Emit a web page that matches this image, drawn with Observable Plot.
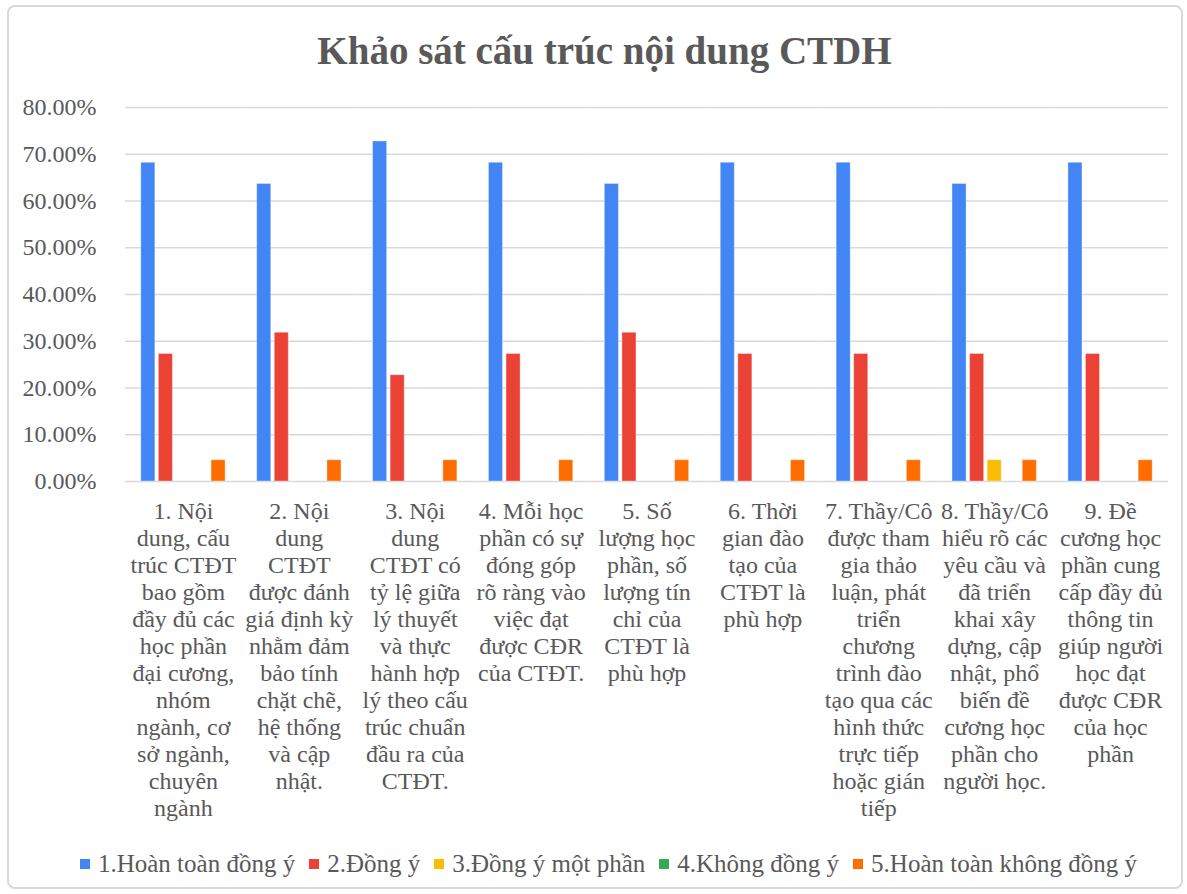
<!DOCTYPE html>
<html>
<head>
<meta charset="utf-8">
<script src="https://cdn.jsdelivr.net/npm/d3@7"></script>
<script src="https://cdn.jsdelivr.net/npm/@observablehq/plot@0.6"></script>
<style>
  html, body { margin: 0; padding: 0; background: #fff; }
  #frame { position: relative; width: 1187px; height: 894px; overflow: hidden; font-family: "Liberation Serif", "Times New Roman", serif; color: #595959; }
  #border { position: absolute; left: 7px; top: 5px; width: 1172px; height: 880px; border: 2px solid #d9d9d9; border-radius: 8px; }
  #title { position: absolute; left: 22px; top: 28px; width: 1165px; text-align: center; font-size: 39px; font-weight: bold; line-height: 46px; color: #595959; }
  #chart { position: absolute; left: 0; top: 90px; }
  #legend { position: absolute; left: 30px; width: 1157px; top: 850px; display: flex; justify-content: center; align-items: center; font-size: 25px; color: #595959; line-height: 28px; }
  .item { display: flex; align-items: center; margin: 0 7px; white-space: nowrap; }
  .sw { width: 10px; height: 10px; margin-right: 8px; }
</style>
</head>
<body>
<div id="frame">
  <div id="border"></div>
  <div id="title">Khảo sát cấu trúc nội dung CTDH</div>
  <div id="chart"></div>
  <div id="legend"></div>
</div>
<script>
// ---- Data ----
const categoryLines = [
  ["1. Nội","dung, cấu","trúc CTĐT","bao gồm","đầy đủ các","học phần","đại cương,","nhóm","ngành, cơ","sở ngành,","chuyên","ngành"],
  ["2. Nội","dung","CTĐT","được đánh","giá định kỳ","nhằm đảm","bảo tính","chặt chẽ,","hệ thống","và cập","nhật."],
  ["3. Nội","dung","CTĐT có","tỷ lệ giữa","lý thuyết","và thực","hành hợp","lý theo cấu","trúc chuẩn","đầu ra của","CTĐT."],
  ["4. Mỗi học","phần có sự","đóng góp","rõ ràng vào","việc đạt","được CĐR","của CTĐT."],
  ["5. Số","lượng học","phần, số","lượng tín","chỉ của","CTĐT là","phù hợp"],
  ["6. Thời","gian đào","tạo của","CTĐT là","phù hợp"],
  ["7. Thầy/Cô","được tham","gia thảo","luận, phát","triển","chương","trình đào","tạo qua các","hình thức","trực tiếp","hoặc gián","tiếp"],
  ["8. Thầy/Cô","hiểu rõ các","yêu cầu và","đã triển","khai xây","dựng, cập","nhật, phổ","biến đề","cương học","phần cho","người học."],
  ["9. Đề","cương học","phần cung","cấp đầy đủ","thông tin","giúp người","học đạt","được CĐR","của học","phần"]
];
const categories = categoryLines.map(l => l.join("\n"));

const seriesNames = ["1.Hoàn toàn đồng ý", "2.Đồng ý", "3.Đồng ý một phần", "4.Không đồng ý", "5.Hoàn toàn không đồng ý"];
const seriesColors = ["#4285F4", "#EA4335", "#FBBC04", "#34A853", "#FF6D01"];

const hoanToanDongY     = [68.18, 63.64, 72.73, 68.18, 63.64, 68.18, 68.18, 63.64, 68.18];
const dongY             = [27.27, 31.82, 22.73, 27.27, 31.82, 27.27, 27.27, 27.27, 27.27];
const dongYMotPhan      = [0, 0, 0, 0, 0, 0, 0, 4.55, 0];
const khongDongY        = [0, 0, 0, 0, 0, 0, 0, 0, 0];
const hoanToanKhongDongY = [4.55, 4.55, 4.55, 4.55, 4.55, 4.55, 4.55, 4.55, 4.55];

const yTicks = [0, 10, 20, 30, 40, 50, 60, 70, 80];

// ---- Table ----
const seriesValues = [hoanToanDongY, dongY, dongYMotPhan, khongDongY, hoanToanKhongDongY];
const rows = [];
categories.forEach((c, i) => {
  seriesNames.forEach((s, j) => {
    rows.push({cat: c, series: s, value: seriesValues[j][i] / 100});
  });
});

const chart = Plot.plot({
  width: 1187,
  height: 750,
  marginLeft: 125,
  marginRight: 19,
  marginTop: 17,
  marginBottom: 359,
  style: {fontFamily: "'Liberation Serif', 'Times New Roman', serif", fontSize: "24px", color: "#595959", background: "transparent", overflow: "visible"},
  fx: {domain: categories, padding: 0, round: false, axis: null, label: null},
  x: {domain: seriesNames, paddingInner: 0.2, paddingOuter: 0.9, round: false, axis: null, label: null},
  y: {domain: [0, 0.8], axis: null, label: null},
  color: {domain: seriesNames, range: seriesColors},
  marks: [
    Plot.gridY(yTicks.map(t => t / 100), {stroke: "#d9d9d9", strokeOpacity: 1, strokeWidth: 1.5}),
    Plot.barY(rows.filter(d => d.value > 0), {fx: "cat", x: "series", y: "value", fill: "series", stroke: "white", strokeOpacity: 0.35, strokeWidth: 1}),
    Plot.axisY(yTicks.map(t => t / 100), {tickSize: 0, tickPadding: 29, tickFormat: d => (d * 100).toFixed(2) + "%", fontSize: 24, fill: "#595959", label: null}),
    Plot.axisFx({anchor: "bottom", tickSize: 0, tickPadding: 18, tickFormat: d => d, lineHeight: 1.125, fontSize: 24, fill: "#595959", label: null})
  ]
});
document.getElementById("chart").appendChild(chart);

// ---- Legend ----
const legend = document.getElementById("legend");
seriesNames.forEach((s, i) => {
  const item = document.createElement("div");
  item.className = "item";
  const sw = document.createElement("span");
  sw.className = "sw";
  sw.style.background = seriesColors[i];
  const tx = document.createElement("span");
  tx.textContent = s;
  item.appendChild(sw);
  item.appendChild(tx);
  legend.appendChild(item);
});
</script>
</body>
</html>
